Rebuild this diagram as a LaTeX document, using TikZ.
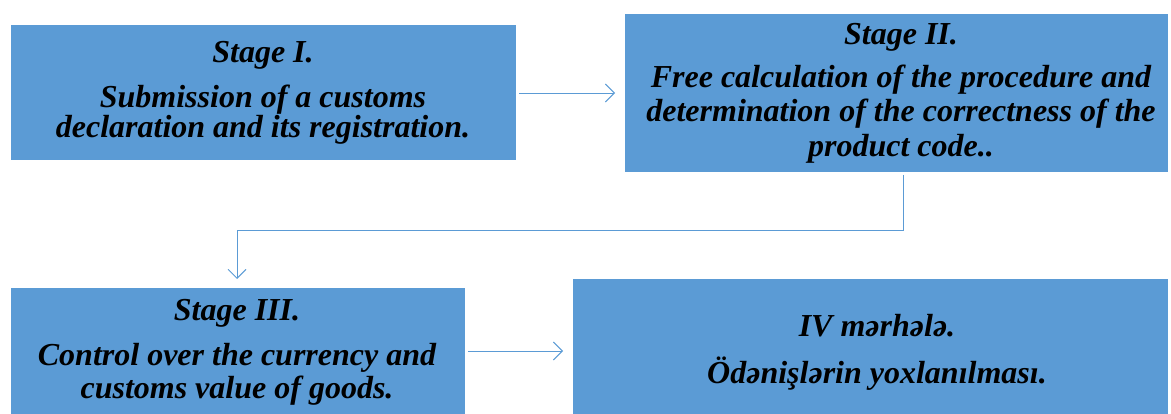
\documentclass[tikz,border=0pt]{standalone}
\usepackage{fontspec}
\setmainfont{Liberation Serif}
\usetikzlibrary{arrows.meta}
\definecolor{boxblue}{HTML}{5B9BD5}
\definecolor{lineblue}{HTML}{5B9BD5}
\tikzset{
  stagebox/.style={fill=boxblue, draw=none, inner sep=0pt},
  stagetext/.style={anchor=base, inner sep=0pt, font=\fontsize{32}{35}\selectfont\bfseries\itshape, text=black},
  flow/.style={draw=lineblue, line width=0.9pt, -{Straight Barb[length=9pt,width=18pt,line width=0.9pt]}}
}
\begin{document}
\begin{tikzpicture}[x=1pt,y=-1pt]
\useasboundingbox (0,0) rectangle (1171,414);
% boxes
\path[stagebox] (11,25) rectangle (516,160);
\coordinate (b1e) at (516,93);
\path[stagebox] (625,14) rectangle (1168,172);
\coordinate (b2w) at (625,93);
\coordinate (b2s) at (903,172);
\path[stagebox] (11,288) rectangle (465,420);
\coordinate (b3n) at (237,288);
\coordinate (b3e) at (465,351);
\path[stagebox] (573,279) rectangle (1168,420);
\coordinate (b4w) at (573,351);
\coordinate (bend1) at (903,230);
\coordinate (bend2) at (237,230);
% texts
\node[stagetext] (t1a) at (263,63) {Stage I.};
\node[stagetext] (t1b) at (263,108) {Submission of a customs};
\node[stagetext] (t1c) at (263,138) {declaration and its registration.};
\node[stagetext] (t2a) at (901,45) {Stage II.};
\node[stagetext] (t2b) at (901,88) {Free calculation of the procedure and};
\node[stagetext] (t2c) at (901,122) {determination of the correctness of the};
\node[stagetext] (t2d) at (901,157) {product code..};
\node[stagetext] (t3a) at (237,320) {Stage III.};
\node[stagetext] (t3b) at (237,365) {Control over the currency and};
\node[stagetext] (t3c) at (237,398) {customs value of goods.};
\node[stagetext] (t4a) at (877,337) {IV mərhələ.};
\node[stagetext] (t4b) at (877,383) {Ödənişlərin yoxlanılması.};
% connectors
\draw[flow] ([xshift=3pt]b1e) -- ([xshift=-10pt]b2w);
\draw[flow] ([yshift=-3pt]b2s) -- (bend1) -- (bend2) -- ([yshift=9pt]b3n);
\draw[flow] ([xshift=3pt]b3e) -- ([xshift=-10pt]b4w);
\end{tikzpicture}
\end{document}
